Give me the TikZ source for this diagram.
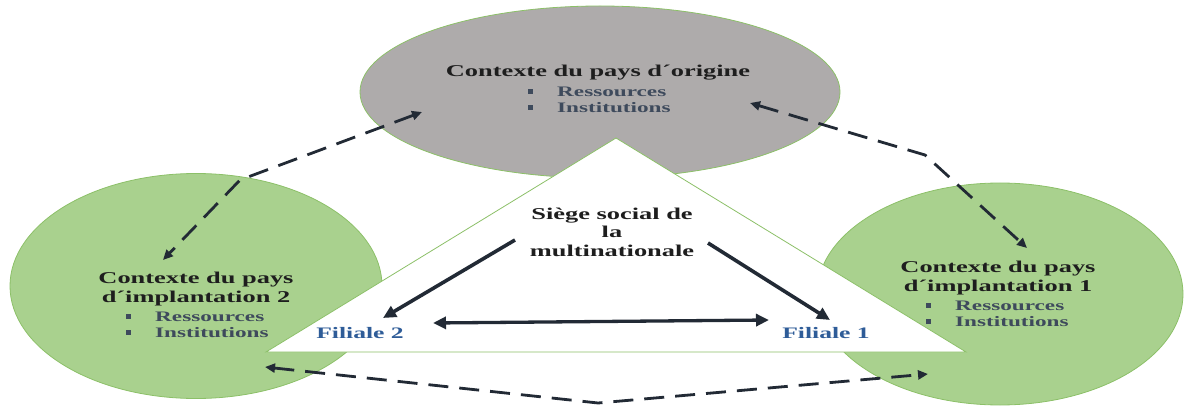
\documentclass[tikz,border=0pt]{standalone}
\usepackage{fontspec}
\setmainfont{Liberation Serif}[FakeStretch=1.6]
\usetikzlibrary{shapes.geometric,arrows.meta}
\definecolor{gfill}{HTML}{A9D18E}
\definecolor{gline}{HTML}{8CC068}
\definecolor{grayfill}{HTML}{AEABAB}
\definecolor{arr}{HTML}{222A35}
\definecolor{ttl}{HTML}{1E1E1E}
\definecolor{lst}{HTML}{3E4A5C}
\definecolor{filc}{HTML}{2E5C98}
\newcommand{\blt}{\rule[3pt]{5pt}{4.5pt}\hspace{24pt}}
\begin{document}
\begin{tikzpicture}[x=1pt,y=-1pt,
  ctx/.style={ellipse, draw=gline, line width=0.8pt, inner sep=0pt},
  ttlt/.style={font=\bfseries\fontsize{16.5}{18.5}\selectfont, text=ttl, align=center, inner sep=0pt},
  lstt/.style={font=\bfseries\fontsize{14.5}{16}\selectfont, text=lst, align=left, inner sep=0pt, anchor=west},
  filt/.style={font=\bfseries\fontsize{16}{18}\selectfont, text=filc, inner sep=0pt},
  solidarr/.style={draw=arr, line width=3.6pt, -{Triangle[length=13pt,width=12pt]}},
  soliddbl/.style={draw=arr, line width=3.3pt, {Triangle[length=13pt,width=12pt]}-{Triangle[length=13pt,width=12pt]}},
  dasharr/.style={draw=arr, line width=2.8pt, dash pattern=on 20pt off 11pt, line join=round,
     {Triangle[length=10pt,width=9pt]}-{Triangle[length=10pt,width=9pt]}}
]
\useasboundingbox (0,0) rectangle (1185,406);
% context shapes
\node[ctx, fill=grayfill, minimum width=480pt, minimum height=172pt] (orig) at (600,92) {};
\node[ctx, fill=gfill, minimum width=372pt, minimum height=225pt] (imp2) at (196,286) {};
\node[ctx, fill=gfill, minimum width=366pt, minimum height=222pt] (imp1) at (1000,294) {};
% triangle
\coordinate (apex) at (616,138);
\coordinate (bl) at (266,352);
\coordinate (br) at (966,352);
\draw[draw=gline, fill=white, line width=0.8pt] (apex) -- (br) -- (bl) -- cycle;
% texts
\node[ttlt] (origT) at (598,73) {Contexte du pays d´origine};
\node[lstt] (origL) at (528,100) {\blt Ressources\\\blt Institutions};
\node[ttlt] (imp2T) at (196,289) {Contexte du pays\\d´implantation 2};
\node[lstt] (imp2L) at (126,325) {\blt Ressources\\\blt Institutions};
\node[ttlt] (imp1T) at (998,278) {Contexte du pays\\d´implantation 1};
\node[lstt] (imp1L) at (926,314) {\blt Ressources\\\blt Institutions};
\node[ttlt] (siege) at (612,232) {Siège social de\\la\\multinationale};
\node[filt] (fil2) at (360,333) {Filiale 2};
\node[filt] (fil1) at (826,333) {Filiale 1};
% solid arrows
\coordinate (s2) at (515,240);
\coordinate (e2) at (383,318);
\coordinate (s1) at (708,243);
\coordinate (e1) at (830,320);
\coordinate (dl) at (433,323);
\coordinate (dr) at (769,320);
\draw[solidarr] (s2) -- (e2);
\draw[solidarr] (s1) -- (e1);
\draw[soliddbl] (dl) -- (dr);
% dashed arrows
\coordinate (la) at (422,112);
\coordinate (lb) at (240,180);
\coordinate (lc) at (163,260);
\coordinate (ra) at (750,103);
\coordinate (rb) at (925,155);
\coordinate (rc) at (1027,248);
\coordinate (ba) at (265,367);
\coordinate (bb) at (598,403);
\coordinate (bc) at (928,374);
\draw[dasharr] (la) -- (lb) -- (lc);
\draw[dasharr] (ra) -- (rb) -- (rc);
\draw[dasharr] (ba) -- (bb) -- (bc);
\end{tikzpicture}
\end{document}
